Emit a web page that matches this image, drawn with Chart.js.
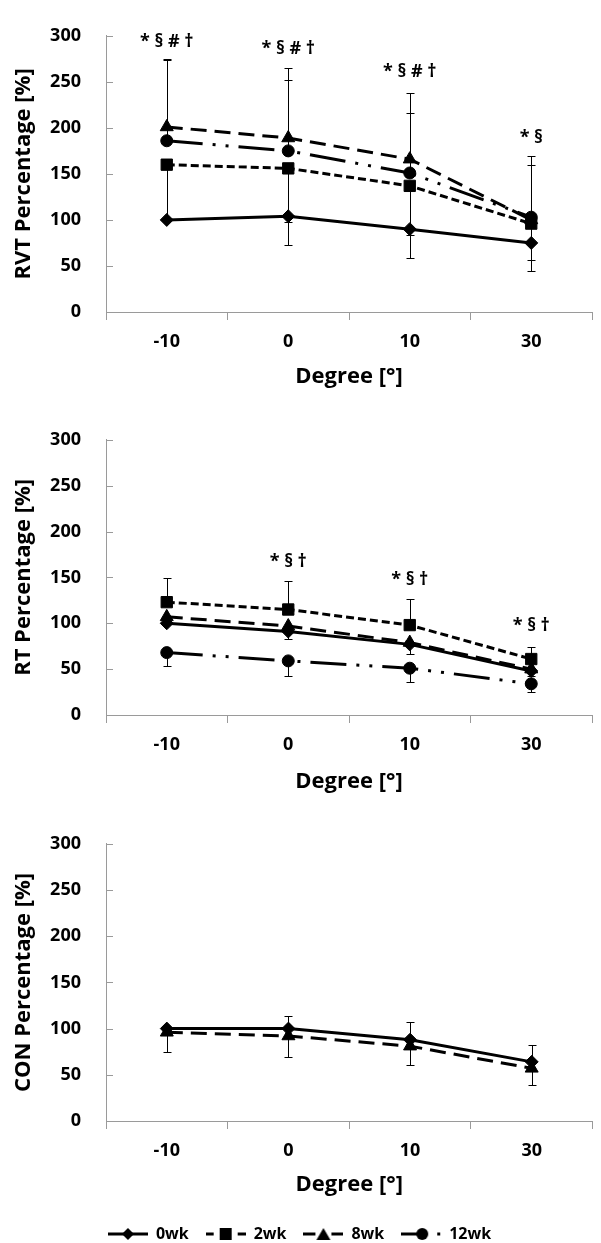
<!DOCTYPE html>
<html lang="en">
<head>
<meta charset="UTF-8" />
<title>RVT / RT / CON Percentage by Degree</title>
<script src="https://cdn.jsdelivr.net/npm/chart.js@4.4.0/dist/chart.umd.min.js"></script>
<style>
  html, body { margin: 0; padding: 0; background: #fff; }
  canvas { display: block; }
</style>
</head>
<body>
<canvas id="rvtChart" width="601" height="404"></canvas>
<canvas id="rtChart" width="601" height="404"></canvas>
<canvas id="conChart" width="601" height="435"></canvas>
<script>
// ---- data ----
const degrees = ["-10", "0", "10", "30"];
const seriesNames = ["0wk", "2wk", "8wk", "12wk"];

// RVT
const rvt0wk = [100, 104, 90, 75];
const rvt2wk = [160, 156, 137, 96];
const rvt8wk = [201, 189, 166, 100];
const rvt12wk = [186, 175, 151, 103];
const rvt0wkMinus = [0, 31, 31, 30];
const rvt2wkMinus = [60, 58, 53, 39];
const rvt8wkPlus = [74, 76, 72, 69];
const rvt12wkPlus = [88, 77, 65, 57];
const rvtMarks = ["* § # †", "* § # †", "* § # †", "* §"];
const rvtMarkAt = [293, 286, 261, 189];

// RT
const rt0wk = [100, 91, 77, 48];
const rt2wk = [123, 115, 98, 61];
const rt8wk = [107, 97, 79, 50];
const rt12wk = [68, 59, 51, 34];
const rt0wkMinus = [0, 8, 10, 5];
const rt2wkPlus = [26, 31, 28, 13];
const rt12wkMinus = [15, 16, 15, 9];
const rtMarks = ["", "* § †", "* § †", "* § †"];
const rtMarkAt = [null, 167, 147, 97];

// CON
const con0wk = [100, 100, 88, 64];
const con8wk = [96, 92, 81, 57];
const con0wkPlus = [0, 14, 19, 18];
const con8wkMinus = [21, 23, 20, 18];

// ---- styles ----
const FONT = "'Open Sans', 'DejaVu Sans', sans-serif";
const axisGray = "#9a9a9a";
const tickFont = { family: FONT, size: 18, weight: "bold" };
const titleFont = { family: FONT, size: 22, weight: "bold" };

const seriesStyle = {
    "0wk": { dash: [], point: "rectRot", radius: 6.5 },
    "2wk": { dash: [8, 4], point: "rect", radius: 8 },
    "8wk": { dash: [16, 8], point: "triangle", radius: 7.5 },
    "12wk": { dash: [36, 10, 3, 10, 3, 10], point: "circle", radius: 6 },
};

function series(name, values) {
    const st = seriesStyle[name];
    return {
        label: name,
        data: values,
        borderColor: "#000",
        backgroundColor: "#000",
        borderWidth: 3,
        borderDash: st.dash,
        pointStyle: st.point,
        pointRadius: st.radius,
        pointBorderWidth: 1,
        pointBorderColor: "#000",
        pointBackgroundColor: "#000",
        tension: 0,
        fill: false,
    };
}

// error bars, inside y ticks and significance marks
function makeExtras(errors, marks, markAt) {
    return {
        id: "extras",
        beforeDatasetsDraw(chart) {
            const { ctx, chartArea } = chart;
            const x = chart.scales.x;
            const y = chart.scales.y;
            ctx.save();
            ctx.strokeStyle = "#000";
            ctx.lineWidth = 1;
            errors.forEach((e) => {
                const values = chart.data.datasets[e.dataset].data;
                values.forEach((v, i) => {
                    const px = Math.round(x.getPixelForValue(i)) + 0.5;
                    [[e.plus, 1], [e.minus, -1]].forEach(([arr, sign]) => {
                        if (!arr || !arr[i]) return;
                        const y0 = y.getPixelForValue(v);
                        const y1 = Math.round(y.getPixelForValue(v + sign * arr[i])) + 0.5;
                        ctx.beginPath();
                        ctx.moveTo(px, y0);
                        ctx.lineTo(px, y1);
                        ctx.moveTo(px - 4, y1);
                        ctx.lineTo(px + 4, y1);
                        ctx.stroke();
                    });
                });
            });
            // tick marks on the inside of the y axis
            ctx.strokeStyle = axisGray;
            y.ticks.forEach((t) => {
                const py = Math.round(y.getPixelForValue(t.value)) + 0.5;
                ctx.beginPath();
                ctx.moveTo(chartArea.left, py);
                ctx.lineTo(chartArea.left + 7, py);
                ctx.stroke();
            });
            ctx.restore();
        },
        afterDatasetsDraw(chart) {
            if (!marks) return;
            const { ctx } = chart;
            ctx.save();
            ctx.fillStyle = "#000";
            ctx.font = "bold 18px " + FONT;
            ctx.textAlign = "center";
            ctx.textBaseline = "middle";
            marks.forEach((m, i) => {
                if (!m) return;
                ctx.fillText(m, chart.scales.x.getPixelForValue(i), chart.scales.y.getPixelForValue(markAt[i]));
            });
            ctx.restore();
        },
    };
}

// small canvas icons for the legend: line pattern with marker
function legendIcon(name) {
    const c = document.createElement("canvas");
    c.width = 40;
    c.height = 16;
    const g = c.getContext("2d");
    g.strokeStyle = "#000";
    g.fillStyle = "#000";
    g.lineWidth = 3;
    const seg = (a, b) => { g.beginPath(); g.moveTo(a, 8); g.lineTo(b, 8); g.stroke(); };
    if (name === "0wk") {
        seg(0, 40);
        g.beginPath();
        g.moveTo(14, 8); g.lineTo(20, 2); g.lineTo(26, 8); g.lineTo(20, 14);
        g.closePath();
        g.fill();
    } else if (name === "2wk") {
        seg(0, 8);
        seg(32, 40);
        g.fillRect(14, 2, 12, 12);
    } else if (name === "8wk") {
        seg(0, 12);
        seg(28, 40);
        g.beginPath();
        g.moveTo(20, 2); g.lineTo(27, 14); g.lineTo(13, 14);
        g.closePath();
        g.fill();
    } else {
        seg(0, 16);
        g.beginPath();
        g.arc(21, 8, 6, 0, Math.PI * 2);
        g.fill();
        g.fillRect(36, 6.5, 3, 3);
    }
    return c;
}

const legendHeightPlugin = {
    id: "legendHeight",
    beforeLayout(chart) {
        const lg = chart.legend;
        if (!lg || lg._fixedFit) return;
        const fit = lg.fit;
        lg.fit = function () {
            fit.call(this);
            this.height = 34;
        };
        lg._fixedFit = true;
    },
};

function makePanel(id, yTitle, datasets, extras, lay) {
    const plugins = [extras];
    if (lay.legend) plugins.push(legendHeightPlugin);
    return new Chart(document.getElementById(id), {
        type: "line",
        data: { labels: degrees, datasets: datasets },
        options: {
            responsive: false,
            animation: false,
            layout: { padding: { top: 18, right: 2, bottom: lay.bottom, left: 0 } },
            plugins: {
                tooltip: { enabled: false },
                legend: {
                    display: !!lay.legend,
                    position: "bottom",
                    labels: {
                        usePointStyle: true,
                        pointStyleWidth: 40,
                        padding: 17,
                        color: "#000",
                        font: { family: FONT, size: 16, weight: "bold" },
                        generateLabels: () =>
                            seriesNames.map((n, i) => ({
                                text: n,
                                pointStyle: legendIcon(n),
                                fillStyle: "#000",
                                strokeStyle: "#000",
                                lineWidth: 0,
                                hidden: false,
                                datasetIndex: i,
                            })),
                    },
                },
            },
            scales: {
                x: {
                    offset: true,
                    grid: { offset: true, drawOnChartArea: false, tickLength: 8, color: axisGray },
                    border: { color: axisGray },
                    ticks: { font: tickFont, color: "#000", padding: 11 },
                    title: {
                        display: true,
                        text: "Degree [°]",
                        font: titleFont,
                        color: "#000",
                        padding: { top: 0, bottom: lay.titlePad },
                    },
                    afterFit(s) { s.height = lay.xHeight; },
                },
                y: {
                    min: 0,
                    max: 300,
                    ticks: { stepSize: 50, font: tickFont, color: "#000", padding: 25 },
                    grid: { display: false, drawTicks: false },
                    border: { color: axisGray },
                    title: {
                        display: true,
                        text: yTitle,
                        font: titleFont,
                        color: "#000",
                        padding: { top: 11, bottom: 0 },
                    },
                    afterFit(s) { s.width = 106; },
                },
            },
        },
        plugins: plugins,
    });
}

makePanel(
    "rvtChart",
    "RVT Percentage [%]",
    [series("0wk", rvt0wk), series("2wk", rvt2wk), series("8wk", rvt8wk), series("12wk", rvt12wk)],
    makeExtras(
        [
            { dataset: 0, minus: rvt0wkMinus },
            { dataset: 1, minus: rvt2wkMinus },
            { dataset: 2, plus: rvt8wkPlus },
            { dataset: 3, plus: rvt12wkPlus },
        ],
        rvtMarks,
        rvtMarkAt
    ),
    { bottom: 12, xHeight: 80, titlePad: 2 }
);

makePanel(
    "rtChart",
    "RT Percentage [%]",
    [series("0wk", rt0wk), series("2wk", rt2wk), series("8wk", rt8wk), series("12wk", rt12wk)],
    makeExtras(
        [
            { dataset: 0, minus: rt0wkMinus },
            { dataset: 1, plus: rt2wkPlus },
            { dataset: 3, minus: rt12wkMinus },
        ],
        rtMarks,
        rtMarkAt
    ),
    { bottom: 13, xHeight: 80, titlePad: 0 }
);

makePanel(
    "conChart",
    "CON Percentage [%]",
    [series("0wk", con0wk), series("8wk", con8wk)],
    makeExtras(
        [
            { dataset: 0, plus: con0wkPlus },
            { dataset: 1, minus: con8wkMinus },
        ],
        null,
        null
    ),
    { bottom: 0, xHeight: 88, titlePad: 11, legend: true }
);
</script>
</body>
</html>
